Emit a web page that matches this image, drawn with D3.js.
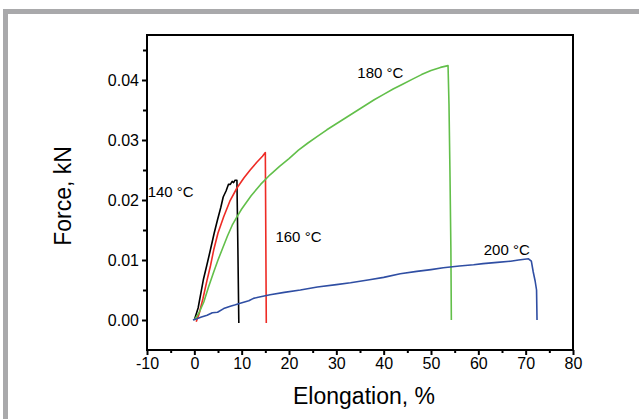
<!DOCTYPE html>
<html>
<head>
<meta charset="utf-8">
<script src="https://cdn.jsdelivr.net/npm/d3@7"></script>
<style>
  body { margin: 0; background: #fff; }
  svg { display: block; font-family: "Liberation Sans", Arial, sans-serif; }
</style>
</head>
<body>
<svg id="chart" width="639" height="419"></svg>
<script>
// tensile curves (elongation %, force kN)
const x140 = [0, 0.8, 1.9, 2.6, 3.4, 4.2, 4.9, 5.6, 6.1, 6.7, 7.2, 7.6, 8.0, 8.3, 8.6, 9.0, 9.2, 9.4];
const y140 = [0, 0.002, 0.0067, 0.009, 0.0117, 0.0145, 0.0167, 0.0188, 0.0205, 0.0215, 0.0226, 0.0226, 0.0231, 0.0229, 0.0233, 0.0233, 0.012, -0.0005];

const x160 = [0.4, 1, 1.8, 2.7, 3.4, 4.1, 5, 6.2, 7.5, 9, 10.5, 11.8, 13.2, 14.4, 15.0, 15.1, 15.2];
const y160 = [-0.0003, 0.001, 0.0035, 0.0067, 0.009, 0.0117, 0.0145, 0.0172, 0.0198, 0.022, 0.0237, 0.025, 0.0263, 0.0273, 0.0279, 0.014, -0.0005];

const x180 = [0, 1, 2, 3, 4, 5, 6, 7, 8, 9, 10, 12, 14, 16, 18, 20, 22, 24, 26, 28, 30, 32, 34, 36, 38, 40, 42, 44, 46, 48, 50, 52, 53.6, 53.8, 54.0, 54.2, 54.3];
const y180 = [0, 0.0012, 0.003, 0.0055, 0.0078, 0.01, 0.012, 0.014, 0.0158, 0.0172, 0.0185, 0.0207, 0.0226, 0.0242, 0.0256, 0.0269, 0.0283, 0.0295, 0.0306, 0.0317, 0.0327, 0.0337, 0.0347, 0.0357, 0.0367, 0.0376, 0.0385, 0.0393, 0.0401, 0.0409, 0.0416, 0.0421, 0.0424, 0.036, 0.025, 0.012, 0];

const x200 = [-0.3, 0.5, 1.5, 2.7, 3.8, 4.9, 6.2, 7.6, 8.5, 9.7, 11.5, 12.5, 13.5, 16, 19, 22.4, 26, 30, 33, 37, 40, 43.5, 47, 50, 52.6, 56, 59, 61, 64, 66.8, 68.5, 70.6, 71.2, 71.6, 72.0, 72.3, 72.4];
const y200 = [0, 0.0002, 0.0005, 0.0008, 0.0012, 0.0013, 0.0019, 0.0023, 0.0025, 0.0028, 0.0032, 0.0036, 0.0038, 0.0042, 0.0046, 0.005, 0.0055, 0.0059, 0.0062, 0.0067, 0.0071, 0.0077, 0.0081, 0.0084, 0.0087, 0.009, 0.0092, 0.0094, 0.0096, 0.0098, 0.01, 0.0102, 0.0098, 0.008, 0.0065, 0.005, 0];

const seriesNames = ['140 °C', '160 °C', '180 °C', '200 °C'];
const xTicks = [-10, 0, 10, 20, 30, 40, 50, 60, 70, 80];
const yTicks = [0, 0.01, 0.02, 0.03, 0.04];

const svg = d3.select('#chart');

// grey frame of the figure
svg.append('rect').attr('x', 3).attr('y', 9).attr('width', 636).attr('height', 5).attr('fill', '#a9a9ab');
svg.append('rect').attr('x', 3).attr('y', 9).attr('width', 5).attr('height', 410).attr('fill', '#a9a9ab');

const m = {left: 147, right: 573, top: 35, bottom: 350};

const x = d3.scaleLinear().domain([-10, 80]).range([m.left, m.right]);
const y = d3.scaleLinear().domain([-0.005, 0.0475]).range([m.bottom, m.top]);

const line = d3.line().x(d => x(d[0])).y(d => y(d[1]));

const series = [
  {xs: x140, ys: y140, color: '#000000'},
  {xs: x160, ys: y160, color: '#ee2b25'},
  {xs: x180, ys: y180, color: '#62bf4a'},
  {xs: x200, ys: y200, color: '#2f4ea3'}
];

series.forEach(s => {
  svg.append('path')
      .datum(s.xs.map((v, i) => [v, s.ys[i]]))
      .attr('fill', 'none')
      .attr('stroke', s.color)
      .attr('stroke-width', 1.6)
      .attr('stroke-linejoin', 'round')
      .attr('d', line);
});

// plot box
svg.append('rect')
    .attr('x', m.left).attr('y', m.top)
    .attr('width', m.right - m.left).attr('height', m.bottom - m.top)
    .attr('fill', 'none').attr('stroke', '#000').attr('stroke-width', 2);

svg.append('g')
    .attr('transform', 'translate(0,' + m.bottom + ')')
    .call(d3.axisBottom(x).tickValues(xTicks).tickSize(5).tickSizeOuter(0).tickPadding(3).tickFormat(d => String(d)));
svg.append('g')
    .attr('transform', 'translate(0,' + m.bottom + ')')
    .call(d3.axisBottom(x).tickValues(d3.range(-5, 80, 10)).tickSize(3).tickFormat(''));

svg.append('g')
    .attr('transform', 'translate(' + m.left + ',0)')
    .call(d3.axisLeft(y).tickValues(yTicks).tickSize(5).tickSizeOuter(0).tickPadding(3).tickFormat(d3.format('.2f')));
svg.append('g')
    .attr('transform', 'translate(' + m.left + ',0)')
    .call(d3.axisLeft(y).tickValues([0.005, 0.015, 0.025, 0.035, 0.045]).tickSize(4).tickFormat(''));

svg.selectAll('.domain').attr('stroke', 'none');
svg.selectAll('.tick line').attr('stroke', '#000').attr('stroke-width', 2);
svg.selectAll('.tick text').attr('fill', '#000').style('font-size', '16px').style('font-family', '"Liberation Sans", Arial, sans-serif');

// axis titles
svg.append('text')
    .attr('x', 364).attr('y', 404)
    .attr('text-anchor', 'middle')
    .style('font-size', '23px')
    .text('Elongation, %');

svg.append('text')
    .attr('transform', 'translate(71,196) rotate(-90)')
    .attr('text-anchor', 'middle')
    .style('font-size', '23px')
    .text('Force, kN');

// curve labels
const labelPos = [[-5, 0.0205], [22, 0.013], [39.3, 0.0403], [66, 0.0108]];
labelPos.forEach((p, i) => {
  svg.append('text')
      .attr('x', x(p[0])).attr('y', y(p[1]))
      .attr('text-anchor', 'middle')
      .style('font-size', '15px')
      .text(seriesNames[i]);
});
</script>
</body>
</html>
